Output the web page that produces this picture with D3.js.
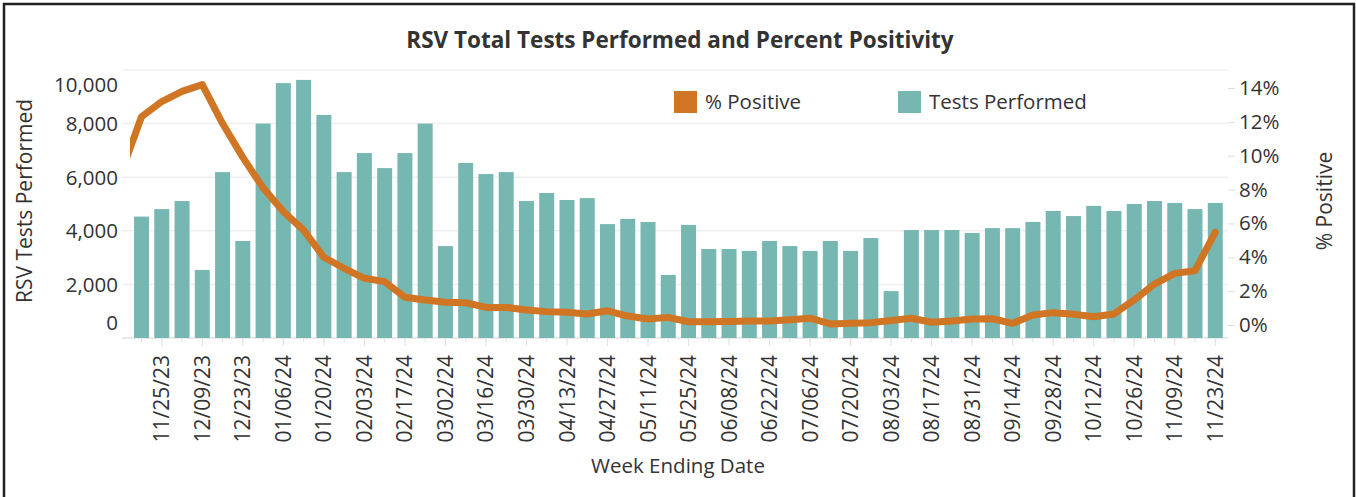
<!DOCTYPE html>
<html>
<head>
<meta charset="utf-8">
<script src="https://cdn.jsdelivr.net/npm/d3@7"></script>
<style>
  body { margin: 0; background: #fff; }
  text { font-family: "Open Sans", sans-serif; fill: #333; }
</style>
</head>
<body>
<svg width="1356" height="497"></svg>
<script>
// Week ending dates (one bar per week)
const weeks = [
  "11/18/23", "11/25/23", "12/02/23", "12/09/23", "12/16/23", "12/23/23", "12/30/23",
  "01/06/24", "01/13/24", "01/20/24", "01/27/24", "02/03/24", "02/10/24", "02/17/24",
  "02/24/24", "03/02/24", "03/09/24", "03/16/24", "03/23/24", "03/30/24", "04/06/24",
  "04/13/24", "04/20/24", "04/27/24", "05/04/24", "05/11/24", "05/18/24", "05/25/24",
  "06/01/24", "06/08/24", "06/15/24", "06/22/24", "06/29/24", "07/06/24", "07/13/24",
  "07/20/24", "07/27/24", "08/03/24", "08/10/24", "08/17/24", "08/24/24", "08/31/24",
  "09/07/24", "09/14/24", "09/21/24", "09/28/24", "10/05/24", "10/12/24", "10/19/24",
  "10/26/24", "11/02/24", "11/09/24", "11/16/24", "11/23/24"
];

// RSV tests performed per week
const testsPerformed = [
  4530, 4810, 5110, 2540, 6190, 3620, 8000, 9510, 9630, 8320,
  6190, 6900, 6340, 6900, 8000, 3430, 6530, 6120, 6190, 5110,
  5410, 5150, 5220, 4250, 4440, 4330, 2350, 4220, 3320, 3320,
  3250, 3620, 3430, 3250, 3620, 3250, 3730, 1750, 4030, 4030,
  4030, 3920, 4100, 4100, 4330, 4740, 4550, 4930, 4740, 5000,
  5110, 5040, 4810, 5040
];

// Percent positive per week
const pctPositive = [
  12.3, 13.2, 13.8, 14.2, 11.9, 9.9, 8.1, 6.7, 5.6, 4.0,
  3.35, 2.76, 2.56, 1.64, 1.48, 1.34, 1.32, 1.04, 1.04, 0.89,
  0.79, 0.75, 0.65, 0.84, 0.53, 0.35, 0.45, 0.19, 0.19, 0.21,
  0.24, 0.24, 0.31, 0.40, 0.06, 0.10, 0.14, 0.27, 0.40, 0.16,
  0.24, 0.35, 0.37, 0.10, 0.59, 0.73, 0.63, 0.49, 0.65, 1.48,
  2.42, 3.05, 3.21, 5.48
];
// week before the first bar (line enters from the left edge)
const pctPrior = 9.0;

const leftTicks = [0, 2000, 4000, 6000, 8000, 10000];
const rightTicks = [0, 2, 4, 6, 8, 10, 12, 14];

const barColor = "#76b7b2";
const lineColor = "#d07524";

const svg = d3.select("svg");

// outer frame
svg.append("rect")
  .attr("x", 4).attr("y", 4)
  .attr("width", 1350).attr("height", 520)
  .attr("fill", "none")
  .attr("stroke", "#222")
  .attr("stroke-width", 2.5);

// scales
const x = d3.scaleBand()
  .domain(weeks)
  .range([131.4, 1225.4])
  .paddingInner(0.26)
  .paddingOuter(0.13);

const yLeft = d3.scaleLinear().domain([0, 10000]).range([338, 70]);
const yRight = d3.scaleLinear().domain([0, 14]).range([325, 88]);

const gridLeft = 122, gridRight = 1228;

// gridlines
svg.append("g")
  .selectAll("line")
  .data(leftTicks)
  .join("line")
  .attr("x1", gridLeft).attr("x2", gridRight)
  .attr("y1", d => yLeft(d)).attr("y2", d => yLeft(d))
  .attr("stroke", d => d === 0 ? "#e2e2e2" : "#efefef")
  .attr("stroke-width", 1.5);

// bars
svg.append("g")
  .selectAll("rect")
  .data(testsPerformed)
  .join("rect")
  .attr("x", (d, i) => x(weeks[i]))
  .attr("y", d => yLeft(d))
  .attr("width", x.bandwidth())
  .attr("height", d => yLeft(0) - yLeft(d))
  .attr("fill", barColor);

// left axis
const leftAxis = svg.append("g")
  .attr("transform", "translate(118,0)")
  .call(d3.axisLeft(yLeft).tickValues(leftTicks).tickSize(0).tickPadding(0).tickFormat(d3.format(",")));
leftAxis.select(".domain").remove();
leftAxis.selectAll("text")
  .style("font-size", "20.5px")
  .attr("fill", "#333")
  .attr("dy", d => d === 0 ? "-0.4em" : d === 10000 ? "1.05em" : "0.35em");

// right axis
const rightAxis = svg.append("g")
  .attr("transform", `translate(${gridRight},0)`)
  .call(d3.axisRight(yRight).tickValues(rightTicks).tickSize(7).tickPadding(4).tickFormat(d => d + "%"));
rightAxis.select(".domain").remove();
rightAxis.selectAll("line").attr("stroke", "#ddd");
rightAxis.selectAll("text").style("font-size", "20.5px").attr("fill", "#333");

// bottom axis: minor ticks on every week
const minorAxis = svg.append("g")
  .attr("transform", "translate(0,339)")
  .call(d3.axisBottom(x).tickSize(3).tickFormat(""));
minorAxis.select(".domain").remove();
minorAxis.selectAll("line").attr("stroke", "#e2e2e2");

// labelled ticks every other week
const labelWeeks = weeks.filter((d, i) => i % 2 === 1);
const majorAxis = svg.append("g")
  .attr("transform", "translate(0,339)")
  .call(d3.axisBottom(x).tickValues(labelWeeks).tickSize(7));
majorAxis.select(".domain").remove();
majorAxis.selectAll("line").attr("stroke", "#e2e2e2");
majorAxis.selectAll("text")
  .style("font-size", "21px")
  .attr("fill", "#333")
  .attr("transform", "rotate(-90)")
  .attr("x", -16)
  .attr("y", 0)
  .attr("dy", "0.36em")
  .attr("text-anchor", "end");

// % positive line, clipped to the plot
svg.append("clipPath").attr("id", "plotClip")
  .append("rect").attr("x", 130).attr("y", 0).attr("width", 1100).attr("height", 400);

const step = x.step();
const linePts = [{ cx: x(weeks[0]) + x.bandwidth() / 2 - step, v: pctPrior }]
  .concat(pctPositive.map((v, i) => ({ cx: x(weeks[i]) + x.bandwidth() / 2, v })));

const lineGen = d3.line().x(d => d.cx).y(d => yRight(d.v));

svg.append("path")
  .datum(linePts)
  .attr("clip-path", "url(#plotClip)")
  .attr("fill", "none")
  .attr("stroke", lineColor)
  .attr("stroke-width", 7)
  .attr("stroke-linejoin", "round")
  .attr("stroke-linecap", "round")
  .attr("d", lineGen);

// title
svg.append("text")
  .attr("x", 680).attr("y", 48)
  .attr("text-anchor", "middle")
  .style("font-size", "22.5px")
  .style("font-weight", "bold")
  .text("RSV Total Tests Performed and Percent Positivity");

// axis titles
svg.append("text")
  .attr("transform", "translate(32,201) rotate(-90)")
  .attr("text-anchor", "middle")
  .style("font-size", "21px")
  .text("RSV Tests Performed");

svg.append("text")
  .attr("transform", "translate(1332,201) rotate(-90)")
  .attr("text-anchor", "middle")
  .style("font-size", "21px")
  .text("% Positive");

svg.append("text")
  .attr("x", 678).attr("y", 473)
  .attr("text-anchor", "middle")
  .style("font-size", "20.5px")
  .text("Week Ending Date");

// legend
const legend = [
  { label: "% Positive", color: lineColor, x: 674 },
  { label: "Tests Performed", color: barColor, x: 898 }
];
const lg = svg.append("g").selectAll("g").data(legend).join("g")
  .attr("transform", d => `translate(${d.x},91)`);
lg.append("rect").attr("width", 23).attr("height", 22).attr("fill", d => d.color);
lg.append("text")
  .attr("x", 31).attr("y", 11).attr("dy", "0.35em")
  .style("font-size", "20.5px")
  .text(d => d.label);
</script>
</body>
</html>
